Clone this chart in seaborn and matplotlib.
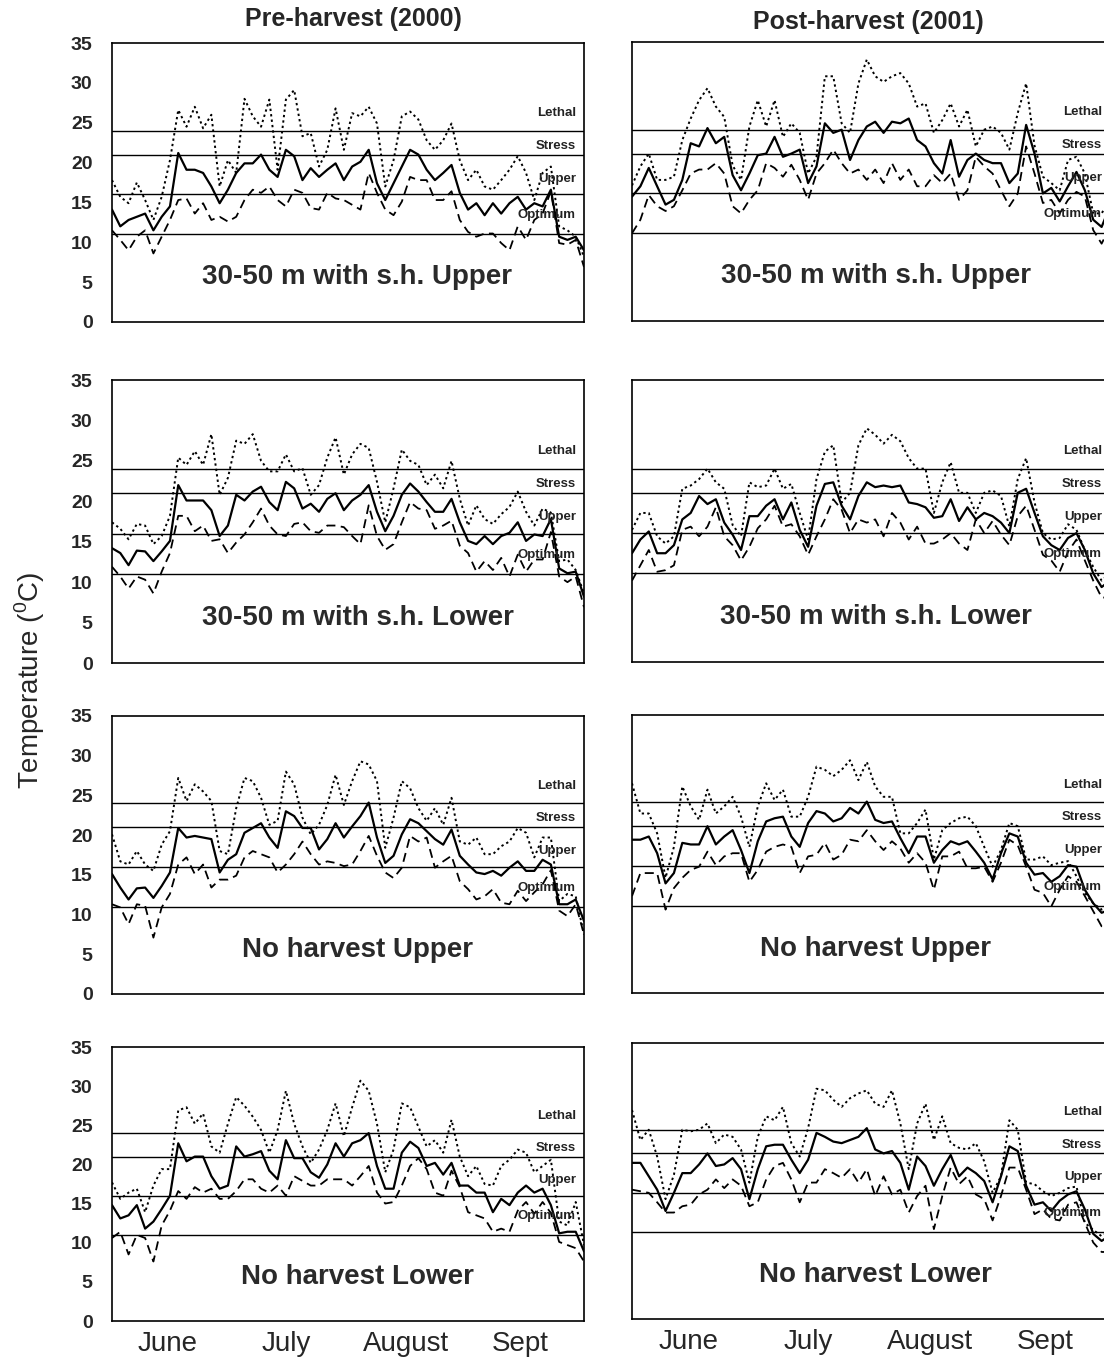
import matplotlib
matplotlib.use("Agg")
import matplotlib.pyplot as plt
import numpy as np
import pandas as pd
import seaborn as sns

# ---------------- data ----------------
days = list(range(0, 115, 2))
months = ["June", "July", "August", "Sept"]
month_pos = [13.5, 42, 71, 98.5]
y_ticks = [0, 5, 10, 15, 20, 25, 30, 35]
thresholds = [24, 21, 16, 11]
band_names = ["Lethal", "Stress", "Upper", "Optimum"]
column_titles = ["Pre-harvest (2000)", "Post-harvest (2001)"]
row_titles = ["30-50 m with s.h. Upper", "30-50 m with s.h. Lower",
              "No harvest Upper", "No harvest Lower"]

# Pre-harvest 2000, 30-50 m with s.h. Upper
pre_u30_max = [17.8,15.7,14.9,17.5,15.3,12.8,15.7,20.3,26.6,24.5,27,24.3,26,17,20.3,18.7,28,25.8,24.5,27.9,
               19.1,27.9,29.1,23.3,23.7,19.5,21.6,26.8,21.6,26.2,25.8,27,24.9,17,20.3,25.8,26.4,25.4,22.8,21.6,
               22.8,24.9,20.3,17.8,19.1,17,16.6,17.8,19.1,20.8,18.7,15.3,18.7,19.5,12,11.5,10.7,8.2]
pre_u30_mean = [14.1,12,12.8,13.2,13.6,11.5,13.2,14.5,21.2,19.1,19.1,18.7,17,14.9,16.6,18.7,19.9,19.9,21,19.1,
                18.2,21.6,20.8,17.8,19.3,18.2,19.1,19.9,17.8,19.5,20.1,21.6,17.4,15.3,17.4,19.5,21.6,21,19.1,17.8,
                18.7,19.7,16.2,14.1,14.9,13.4,14.9,13.6,14.9,15.7,14.1,14.9,14.5,16.6,10.7,10.3,10.7,9]
pre_u30_min = [11.5,10.3,9,10.7,11.5,8.6,10.7,12.8,15.3,15.5,13.6,14.9,12.8,13.2,12.6,13.2,15.3,16.6,16.2,17,
               15.3,14.5,16.6,16.2,14.3,14.1,16.2,15.5,15.3,14.7,14.1,18.7,16.2,14.1,13.4,15.1,18.2,17.8,17.8,15.3,
               15.3,16.4,12.8,11.3,10.7,11.1,11.1,9.9,9,12,10.3,12.8,13.6,16.4,9.9,9.7,10.3,6.9]

# Post-harvest 2001, 30-50 m with s.h. Upper
post_u30_max = [17,19.4,21,17.7,17.7,18.1,22.7,25.4,27.7,29.2,26.9,25.6,19.5,17.7,24.4,27.7,24.4,27.7,23.1,24.8,
                23.6,18.5,20.6,30.7,30.7,24.8,23.6,29.8,32.8,30.7,30,30.7,31.1,29.8,26.9,27.3,23.6,25.2,27.3,24.4,
                26.5,21.9,24,24.4,23.6,21.5,26.1,29.8,22,18.1,17.3,16.4,20.2,20.6,18.5,13.5,13.5,15.2]
post_u30_mean = [15.6,16.9,19.2,16.9,14.6,15.2,17.7,22.3,21.9,24.2,22.3,23.1,18.3,16.4,18.5,20.8,21,23.1,20.6,21,
                 21.5,17.3,19.4,24.8,23.6,24,20.2,22.7,24.4,25,23.6,25,24.8,25.4,22.7,21.9,19.8,18.5,22.7,18.1,
                 20.2,21,20.2,19.8,19.8,17.3,18.5,24.6,21,16,16.7,15,16.9,18.7,16.4,12.7,11.8,14.4]
post_u30_min = [11,12.7,15.8,14.4,13.8,14.4,16.4,18.5,19,19,19.8,18.5,14.4,13.5,15.2,16.4,19.8,19.2,18.1,19.6,
                17.7,15.2,18.5,19.8,21.5,19.8,18.5,19,17.7,19,17.3,19.8,17.7,19,16.9,16.9,18.3,17.3,18.5,15.2,
                16.4,20.6,19.4,18.5,16.4,14.4,16,21.9,18.5,14.8,15.2,13.5,15.2,16.2,15.6,11.4,9.7,11.8]

# Pre-harvest 2000, 30-50 m with s.h. Lower
pre_l30_max = [17.4,16.6,15.3,17.2,17,14.7,15.7,18.2,25.4,24.5,26.2,24.5,28.3,20.8,22.9,27.5,27.1,28.3,25,23.7,
               23.7,25.8,23.7,24.1,20.8,22,25.4,27.9,23.3,25.8,27.1,26.6,22.4,17.4,21.6,26.4,25,24.5,22,23.3,
               21.6,25,20.3,17,19.5,17.8,17.2,18.4,19.3,21.2,18.7,17,19.1,18.6,12.6,12.8,11.5,8.6]
pre_l30_mean = [14.2,13.6,12.1,13.9,13.8,12.6,13.8,15.1,22,20.1,20.1,20.1,18.9,15.7,17,20.8,20.1,21.2,21.8,19.9,
                18.9,22.4,21.6,19.1,19.7,18.7,20.3,21,18.9,20.1,20.8,22,18.7,16.3,18.2,20.8,22.2,21.2,19.9,18.7,
                18.7,20.3,17.4,15.1,14.7,15.7,14.7,15.7,16.1,17.4,15.1,15.9,15.7,17.8,11.7,11.1,11.3,8.2]
pre_l30_min = [11.9,10.7,9.2,10.7,10.3,8.6,11.3,13.6,18.2,18.2,16.3,17,15.1,15.3,13.6,14.9,15.9,17.4,19.1,17,
               15.9,15.7,17.2,17.4,16.3,16.1,17,17,16.8,15.7,14.7,19.5,15.7,14,14.7,17.4,19.9,19.1,18.9,16.6,
               17,17.6,14.5,13.6,11.3,12.6,11.5,13,10.7,13.4,11.3,12.8,12.8,16.2,10.7,10,10.7,6.9]

# Post-harvest 2001, 30-50 m with s.h. Lower
post_l30_max = [16.4,18.5,18.5,15.6,14.7,15.6,21.5,21.9,22.7,24,22.3,21.5,17,15.6,22.3,21.7,21.9,24,21.5,22.1,
                18.5,15.2,22.7,26.1,26.9,19.8,21,26.9,29,28.2,27.1,28.2,27.4,25.3,24,24,18.5,22.3,24.8,21,
                21,18.5,21,21.3,20.6,16.8,22.7,25.3,19.8,16,15.2,15.4,17.1,16.4,13.9,11.8,10.1,11]
post_l30_mean = [13.5,15.2,16.2,13.5,13.5,14.5,17.7,18.5,20.6,19.6,20.2,17.3,15.8,13.9,18.1,18.1,19.4,20.2,17.7,19.8,
                 16.4,14.3,19.4,22.1,22.3,19.4,17.7,20.6,22.3,21.7,21.9,21.7,21.9,19.8,19.6,19.2,17.9,18.1,20.2,17.5,
                 19.2,17.7,18.5,18.1,17.3,16,21,21.5,18.5,15.6,14.5,13.9,15.4,16,13.9,11,9.3,10.1]
post_l30_min = [10.1,12,13.9,11.2,11.4,12,16.4,16.8,15.6,16.8,19.2,15.6,14.5,12.6,14.3,16.6,17.7,19.4,16.8,17.1,
                15.6,13.3,15.6,17.7,20.2,18.9,16,17.7,17.3,17.7,15.6,18.5,17.3,15.2,16.8,14.7,14.7,15.2,16,14.7,
                13.9,17.7,16,17.5,15.8,14.5,18.1,19.4,16.4,13.3,12.6,11.2,13.7,15.2,12.6,10.1,8,8]

# Pre-harvest 2000, No harvest Upper
pre_unh_max = [20.1,16.7,16.3,18,16.3,15.5,18.8,20.5,27.2,24.3,26.4,25.5,24.3,18,17.6,23.4,27.2,26.8,24.7,21.3,
               21.8,28,26.4,22.2,20.1,21.3,23.8,27.6,23.8,26.8,29.3,28.9,26.8,18.4,22.2,26.8,25.9,23.4,21.8,23.4,
               21.3,24.7,19.2,18.8,19.7,17.6,17.6,18.6,19.2,20.9,20.3,17.2,19.7,19.7,11.7,12.6,12.3,7.5]
pre_unh_mean = [15.1,13.4,11.9,13.3,13.4,12.1,13.6,15.3,20.9,19.7,19.9,19.7,19.5,15.3,16.9,17.6,20.3,20.9,21.5,19.7,
                18.4,23,22.4,20.9,20.9,18.2,19.5,21.5,19.7,21.1,22.4,24.1,19.7,16.5,17.4,20.1,22,21.5,20.5,19.5,
                18.8,20.7,17.4,16.3,15.3,15.1,15.5,14.9,15.9,16.7,15.5,15.5,16.9,16.3,11.3,11.3,11.9,9.2]
pre_unh_min = [11.3,10.9,8.8,11.3,11.1,7.1,10.9,12.6,16.3,17.2,15.1,16.3,13.4,14.4,14.4,14.9,17.2,18,17.6,17.2,
               15.3,16.3,17.6,19.2,17.6,16.3,16.7,16.5,16.1,16.3,18,19.9,17.4,15.3,14.6,15.9,19.9,19.2,19.7,15.9,
               16.7,17.4,14.2,13.2,11.9,12.3,13.2,11.5,11.3,13,11.7,12.8,13.8,15.6,10.5,9.8,11.3,7.5]

# Post-harvest 2001, No harvest Upper
post_unh_max = [26.4,22.6,22.6,20.1,14.5,18.4,26,23.5,21.8,25.6,22.6,23.5,24.7,22.2,18.4,23.5,26.4,24.3,25.6,22.2,
                22.2,24.7,28.5,28.1,27.3,28.1,29.3,26.8,29.1,26,24.7,24.7,20.1,20.1,21.4,23.1,16.8,20.5,21.4,22,
                22.2,21,18.4,15.9,18,21.4,21,16.8,16.8,17.2,16.1,16.4,16.6,14.7,12.6,11.3,10.5,10.9]
post_unh_mean = [19.3,19.3,19.7,17.6,13.8,15.1,18.9,18.7,18.7,21,18.7,19.7,20.5,18,15.1,19.1,21.6,22,22.2,19.7,
                 18.4,21.4,22.9,22.6,21.6,22,23.3,22.6,24.1,21.8,21.4,21.6,19.5,17.6,19.7,19.7,16.4,18,19.1,18.7,
                 19.1,17.8,16.4,14.3,17.6,20.1,19.7,16.4,14.9,15.1,14,14.7,16.1,15.9,13,11.3,10.1,10.5]
post_unh_min = [12.2,15.1,15.1,15.1,10.5,13.2,14.5,15.5,15.9,17.8,16.1,17.2,17.6,17.6,14,15.5,17.8,18.4,18.7,18.4,
                15.1,17.2,17.4,18.9,16.8,17.4,19.3,19.1,20.5,19.1,18,19.1,18.2,16.4,17.6,16.4,13,17.2,17.2,17.8,
                15.7,15.7,15.9,14,16.4,19.3,18.6,15.9,13,12.6,10.9,13,14.7,14,12.2,10.3,8.4,8.8]

# Pre-harvest 2000, No harvest Lower
pre_lnh_max = [17.7,15.6,16.4,16.9,13.9,17.3,19.4,19.4,26.9,27.3,25.2,26.5,22.3,21.5,25.2,28.6,27.5,26.1,24.4,21.5,
               24.4,29.4,25.2,22.3,20.2,21.9,24.4,27.8,23.6,27.3,30.7,29.4,25.2,19,21.9,27.8,27.3,24.8,22.3,23.1,
               21.5,25.7,21,18.5,19.8,17.5,17.3,19.8,20.6,21.9,21.5,19,19.8,20.6,12.7,12.2,15.2,9.7]
pre_lnh_mean = [14.8,13.1,13.5,14.8,11.8,12.7,14.3,16,22.7,20.4,21,21,18.5,16.9,17.3,22.3,21,21.3,21.7,19.2,
                18.1,23.1,20.8,20.8,19,18.3,20,22.7,21,22.7,23.1,24,19.8,16.9,16.9,21.5,22.9,22.1,19.8,20.2,
                18.7,20.2,17.3,17.3,16.4,16.4,13.9,15.6,14.8,16.4,17.3,16.4,16.9,14.8,11.2,11.4,11.4,8.9]
pre_lnh_min = [10.6,11.4,8.5,11,10.6,7.6,12.2,14.1,16.6,15.6,17.1,16.4,16.9,15.6,15.6,16.6,18.1,18.1,16.9,16.4,
               17.3,16,18.5,17.9,17.3,17.3,18.1,18.1,18.1,17.3,18.5,19.8,16.4,15,15.2,17.3,19.8,20.8,19.4,16.4,
               16,19.2,17.1,13.9,13.5,13.1,11.4,11.8,11.4,14.1,15.2,13.7,15.2,13.8,10.1,9.7,9.3,7.6]

# Post-harvest 2001, No harvest Lower
post_lnh_max = [26.5,22.7,24,20.6,15.2,18.3,24,23.8,24,24.8,22.3,23.4,23.1,21.5,17.3,23.1,25.7,25.2,26.9,22.3,
                20.6,24.2,29.2,29,27.8,26.9,28,28.6,29,27.3,26.9,29,24.8,19,24.8,27.3,22.7,25.7,22.3,21.7,
                21.5,22.3,20,16,18.1,25.2,24,17.3,17.1,16.2,15.6,16,16.6,16.8,12.2,11.3,10.5,11.2]
post_lnh_mean = [19.8,19.8,18.1,16.4,13.7,16,18.5,18.5,19.6,21,19.4,19.6,20.4,19,15.2,19,21.9,22.1,22.1,20.2,
                 18.5,20.2,23.6,23.1,22.5,22.3,22.7,23.1,24.2,21.5,21,21.3,19.8,16.4,20.6,19.4,16.9,19,20.8,18.1,
                 19.2,18.5,17.5,14.8,18.1,21.9,21.3,16.9,14.5,14.8,13.7,15,15.8,16.2,13.9,10.8,9.9,10.6]
post_lnh_min = [16.4,16.2,16,14.8,13.5,13.5,14.3,14.5,15.8,16.4,17.7,16.6,17.7,16.9,14.3,14.8,17.7,19.4,19.8,17.7,
                14.8,17.3,17.3,19,18.5,17.9,19,17.3,19,15.6,18.1,15.8,16.4,13.5,15.6,16.9,11.4,15.6,19.2,17.1,
                18.1,15.8,15.2,12.5,15.6,19.2,19.2,16.4,13.3,13.9,12.7,12.5,14.5,14.8,12.2,9.7,8.5,8.5]

panels = [
    [(pre_u30_max, pre_u30_mean, pre_u30_min), (post_u30_max, post_u30_mean, post_u30_min)],
    [(pre_l30_max, pre_l30_mean, pre_l30_min), (post_l30_max, post_l30_mean, post_l30_min)],
    [(pre_unh_max, pre_unh_mean, pre_unh_min), (post_unh_max, post_unh_mean, post_unh_min)],
    [(pre_lnh_max, pre_lnh_mean, pre_lnh_min), (post_lnh_max, post_lnh_mean, post_lnh_min)],
]

# ---------------- style ----------------
sns.set_theme(style="white")
plt.rcParams["font.family"] = ["Liberation Sans", "DejaVu Sans"]
plt.rcParams["mathtext.fontset"] = "custom"
plt.rcParams["mathtext.rm"] = "Liberation Sans"

W, H = 1104, 1359
fig = plt.figure(figsize=(W / 100, H / 100), dpi=100)
fig.patch.set_facecolor("white")

col_x = [(112, 472), (632, 478)]
row_y = [[(43, 322), (380, 663), (716, 994), (1047, 1321)],
         [(42, 321), (380, 662), (715, 993), (1043, 1319)]]
label_x = [0.52, 0.51]
band_label_y = [26.2, 22.1, 18.0, 13.4]

dotted = (0, (1.2, 1.6))
dashed = (0, (5, 3))

for r in range(4):
    for c in range(2):
        x0, w = col_x[c]
        top, bot = row_y[c][r]
        ax = fig.add_axes([x0 / W, 1 - bot / H, w / W, (bot - top) / H])
        ax.set_facecolor("white")
        smax, smean, smin = panels[r][c]
        df = pd.DataFrame({"day": days, "max": smax, "mean": smean, "min": smin})
        sns.lineplot(data=df, x="day", y="max", ax=ax, color="black", lw=1.4,
                     linestyle=dotted, estimator=None)
        sns.lineplot(data=df, x="day", y="mean", ax=ax, color="black", lw=1.6,
                     linestyle="-", estimator=None)
        sns.lineplot(data=df, x="day", y="min", ax=ax, color="black", lw=1.3,
                     linestyle=dashed, estimator=None)
        for t in thresholds:
            ax.axhline(t, color="black", lw=1.0)
        for name, yy in zip(band_names, band_label_y):
            ax.text(0.983, yy, name, transform=ax.get_yaxis_transform(),
                    ha="right", va="center", fontsize=9.5, fontweight="bold", color="#222222")
        ax.text(label_x[c], 0.16, row_titles[r], transform=ax.transAxes,
                ha="center", va="center", fontsize=20, fontweight="bold", color="#2a2a2a")
        ax.set_xlim(0, 114)
        ax.set_ylim(0, 35)
        ax.set_xlabel("")
        ax.set_ylabel("")
        ax.set_yticks(y_ticks)
        ax.set_xticks(month_pos)
        if c == 0:
            ax.set_yticklabels([str(v) for v in y_ticks], fontsize=14, fontweight="bold")
        else:
            ax.set_yticklabels([])
        if r == 3:
            ax.set_xticklabels(months, fontsize=20)
        else:
            ax.set_xticklabels([])
        ax.tick_params(axis="both", length=0)
        ax.tick_params(axis="y", pad=14)
        ax.tick_params(axis="x", pad=7)
        ax.grid(False)
        for sp in ax.spines.values():
            sp.set_visible(True)
            sp.set_color("black")
            sp.set_linewidth(1.2)

fig.text(353 / W, 1 - 19 / H, column_titles[0], ha="center", va="center",
         fontsize=18, fontweight="bold")
fig.text(868 / W, 1 - 22 / H, column_titles[1], ha="center", va="center",
         fontsize=18, fontweight="bold")
fig.text(30 / W, 1 - 680 / H, "Temperature ($^{0}$C)", rotation=90,
         ha="center", va="center", fontsize=20)

fig.savefig("out.png", dpi=100)
